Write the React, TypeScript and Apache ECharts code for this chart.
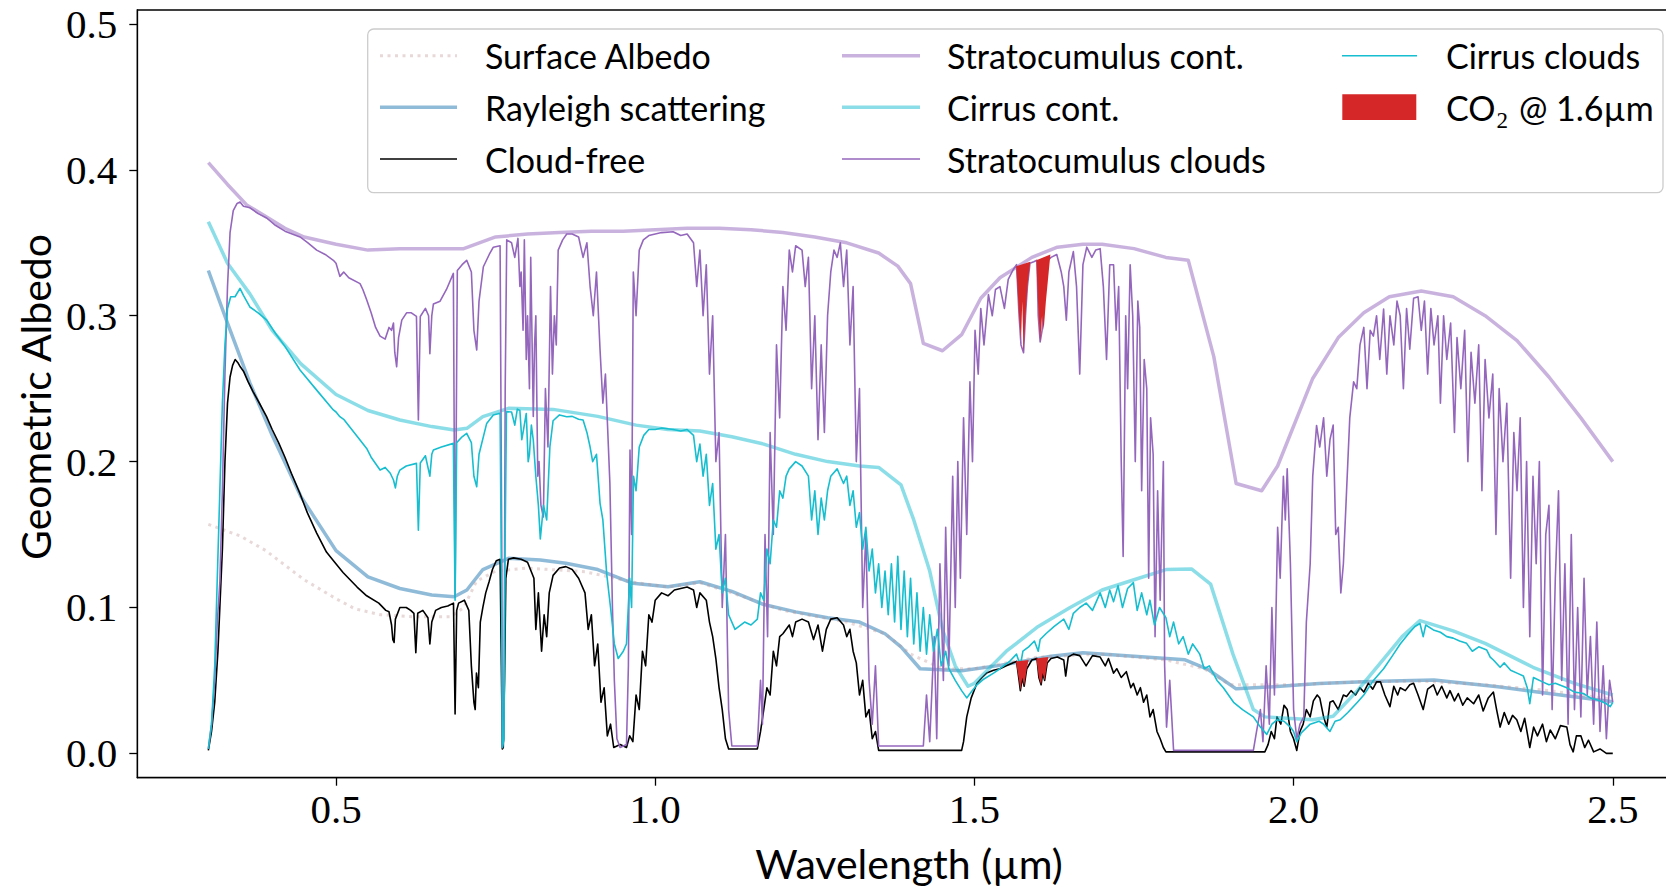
import { useEffect, useRef } from 'react';
import * as echarts from 'echarts';

// ---------- axis ranges & ticks ----------
const X_MIN = 0.1887;
const X_MAX = 2.61;
const Y_MIN = -0.0167;
const Y_MAX = 0.5096;
const xTicks = [0.5, 1.0, 1.5, 2.0, 2.5];
const yTicks = [0.0, 0.1, 0.2, 0.3, 0.4, 0.5];

// ---------- series names ----------
const names = {
  surface: 'Surface Albedo',
  rayleigh: 'Rayleigh scattering',
  clear: 'Cloud-free',
  stratoCont: 'Stratocumulus cont.',
  cirrusCont: 'Cirrus cont.',
  strato: 'Stratocumulus clouds',
  cirrus: 'Cirrus clouds',
};

// ---------- data (wavelength µm, geometric albedo) ----------
const surfaceAlbedo: number[][] = [
  [0.30, 0.157], [0.35, 0.149], [0.39, 0.139], [0.45, 0.119], [0.50, 0.106], [0.53, 0.099],
  [0.57, 0.095], [0.62, 0.0937], [0.68, 0.0937], [0.70, 0.10], [0.72, 0.118], [0.75, 0.125],
  [0.80, 0.127], [0.89, 0.1245], [0.97, 0.117], [1.02, 0.114], [1.07, 0.117], [1.12, 0.11],
  [1.20, 0.098], [1.30, 0.09], [1.36, 0.082], [1.40, 0.068], [1.45, 0.058], [1.50, 0.058],
  [1.60, 0.066], [1.70, 0.068], [1.80, 0.064], [1.86, 0.058], [1.90, 0.047], [2.00, 0.047],
  [2.10, 0.049], [2.20, 0.0495], [2.30, 0.047], [2.40, 0.043], [2.50, 0.037],
];

const rayleigh: number[][] = [
  [0.30, 0.331], [0.33, 0.295], [0.365, 0.254], [0.40, 0.218], [0.445, 0.176], [0.50, 0.139],
  [0.55, 0.121], [0.60, 0.113], [0.65, 0.1085], [0.685, 0.1074], [0.705, 0.112], [0.73, 0.126],
  [0.77, 0.1337], [0.82, 0.1325], [0.86, 0.1303], [0.91, 0.126], [0.965, 0.1166], [1.02, 0.1142],
  [1.07, 0.1176], [1.12, 0.111], [1.17, 0.102], [1.22, 0.097], [1.27, 0.093], [1.32, 0.090],
  [1.36, 0.082], [1.385, 0.073], [1.415, 0.058], [1.48, 0.0566], [1.54, 0.0603], [1.62, 0.0666],
  [1.67, 0.069], [1.75, 0.0666], [1.83, 0.0641], [1.865, 0.0578], [1.91, 0.0442], [1.96, 0.0454],
  [2.04, 0.0479], [2.12, 0.0492], [2.22, 0.0503], [2.32, 0.0457], [2.40, 0.041], [2.50, 0.0354],
];

const cloudFree: number[][] = [
  [0.300, 0.002], [0.305, 0.015], [0.310, 0.035], [0.315, 0.07], [0.318, 0.10], [0.322, 0.14],
  [0.326, 0.20], [0.330, 0.24], [0.334, 0.258], [0.338, 0.266], [0.342, 0.270], [0.346, 0.268],
  [0.350, 0.265], [0.355, 0.262], [0.362, 0.255], [0.370, 0.248], [0.380, 0.240], [0.391, 0.231],
  [0.400, 0.222], [0.410, 0.213], [0.420, 0.203], [0.430, 0.192], [0.4436, 0.178], [0.455, 0.165],
  [0.4697, 0.151], [0.485, 0.138], [0.496, 0.132], [0.511, 0.124], [0.522, 0.119], [0.533, 0.114],
  [0.548, 0.108], [0.567, 0.103], [0.578, 0.098], [0.583, 0.097], [0.587, 0.088], [0.589, 0.078],
  [0.591, 0.076], [0.593, 0.092], [0.600, 0.100], [0.610, 0.100], [0.617, 0.098], [0.622, 0.096],
  [0.625, 0.069], [0.628, 0.096], [0.636, 0.098], [0.644, 0.093], [0.647, 0.075], [0.650, 0.090],
  [0.656, 0.098], [0.665, 0.100], [0.675, 0.101], [0.684, 0.103], [0.6865, 0.027], [0.689, 0.098],
  [0.692, 0.103], [0.701, 0.105], [0.708, 0.098], [0.712, 0.060], [0.716, 0.035], [0.718, 0.030],
  [0.720, 0.055], [0.723, 0.045], [0.726, 0.090], [0.730, 0.100], [0.7345, 0.110], [0.740, 0.118],
  [0.745, 0.126], [0.751, 0.132], [0.757, 0.133], [0.759, 0.06], [0.7605, 0.003], [0.762, 0.004],
  [0.764, 0.05], [0.766, 0.12], [0.770, 0.133], [0.778, 0.134], [0.790, 0.133], [0.800, 0.131],
  [0.810, 0.120], [0.813, 0.085], [0.817, 0.110], [0.822, 0.070], [0.826, 0.095], [0.830, 0.080],
  [0.834, 0.110], [0.840, 0.122], [0.850, 0.127], [0.860, 0.128], [0.870, 0.126], [0.880, 0.120],
  [0.890, 0.110], [0.895, 0.085], [0.900, 0.095], [0.905, 0.060], [0.910, 0.075], [0.915, 0.035],
  [0.920, 0.045], [0.925, 0.012], [0.930, 0.020], [0.935, 0.004], [0.945, 0.006], [0.955, 0.004],
  [0.960, 0.012], [0.965, 0.008], [0.970, 0.040], [0.975, 0.030], [0.980, 0.070], [0.985, 0.060],
  [0.990, 0.095], [0.995, 0.090], [1.000, 0.105], [1.010, 0.110], [1.020, 0.108], [1.030, 0.112],
  [1.040, 0.113], [1.050, 0.114], [1.060, 0.112], [1.065, 0.100], [1.070, 0.110], [1.080, 0.105],
  [1.085, 0.090], [1.090, 0.080], [1.095, 0.065], [1.100, 0.045], [1.105, 0.030], [1.110, 0.010],
  [1.115, 0.003], [1.160, 0.003], [1.165, 0.015], [1.170, 0.030], [1.175, 0.045], [1.180, 0.040],
  [1.185, 0.070], [1.190, 0.060], [1.195, 0.080], [1.200, 0.082], [1.210, 0.088], [1.215, 0.080],
  [1.220, 0.090], [1.230, 0.092], [1.240, 0.090], [1.248, 0.078], [1.255, 0.088], [1.262, 0.070],
  [1.268, 0.085], [1.275, 0.092], [1.285, 0.093], [1.295, 0.088], [1.300, 0.080], [1.305, 0.085],
  [1.310, 0.070], [1.315, 0.062], [1.320, 0.040], [1.325, 0.050], [1.330, 0.025], [1.335, 0.030],
  [1.340, 0.010], [1.345, 0.015], [1.350, 0.002], [1.480, 0.002], [1.483, 0.008], [1.488, 0.025],
  [1.495, 0.038], [1.504, 0.048], [1.512, 0.052], [1.519, 0.055], [1.530, 0.057], [1.540, 0.058],
  [1.550, 0.060], [1.560, 0.062], [1.566, 0.063], [1.570, 0.050], [1.572, 0.043], [1.575, 0.052],
  [1.578, 0.046], [1.582, 0.058], [1.590, 0.064], [1.598, 0.065], [1.601, 0.052], [1.6045, 0.047],
  [1.607, 0.055], [1.610, 0.050], [1.614, 0.062], [1.620, 0.065], [1.630, 0.066], [1.640, 0.064],
  [1.643, 0.053], [1.647, 0.066], [1.655, 0.068], [1.665, 0.067], [1.675, 0.060], [1.685, 0.067],
  [1.697, 0.066], [1.705, 0.060], [1.710, 0.065], [1.718, 0.055], [1.723, 0.058], [1.730, 0.052],
  [1.738, 0.056], [1.745, 0.045], [1.749, 0.048], [1.755, 0.040], [1.760, 0.045], [1.765, 0.035],
  [1.770, 0.040], [1.775, 0.025], [1.780, 0.030], [1.786, 0.015], [1.791, 0.010], [1.796, 0.004],
  [1.800, 0.001], [1.955, 0.001], [1.960, 0.006], [1.965, 0.015], [1.970, 0.010], [1.974, 0.025],
  [1.980, 0.020], [1.985, 0.033], [1.990, 0.030], [1.995, 0.015], [2.000, 0.010], [2.005, 0.002],
  [2.010, 0.015], [2.015, 0.020], [2.020, 0.030], [2.026, 0.025], [2.031, 0.036], [2.037, 0.040],
  [2.041, 0.038], [2.047, 0.025], [2.052, 0.018], [2.057, 0.035], [2.062, 0.036], [2.070, 0.030],
  [2.078, 0.040], [2.083, 0.039], [2.090, 0.043], [2.097, 0.040], [2.104, 0.045], [2.110, 0.042],
  [2.117, 0.048], [2.124, 0.044], [2.130, 0.049], [2.136, 0.049], [2.143, 0.040], [2.151, 0.032],
  [2.157, 0.046], [2.163, 0.040], [2.167, 0.045], [2.175, 0.043], [2.182, 0.047], [2.188, 0.048],
  [2.195, 0.040], [2.203, 0.030], [2.210, 0.044], [2.219, 0.047], [2.225, 0.040], [2.232, 0.046],
  [2.240, 0.038], [2.245, 0.043], [2.252, 0.036], [2.258, 0.041], [2.265, 0.033], [2.272, 0.038],
  [2.282, 0.034], [2.290, 0.040], [2.297, 0.029], [2.305, 0.038], [2.313, 0.042], [2.318, 0.030],
  [2.3235, 0.018], [2.330, 0.028], [2.337, 0.020], [2.343, 0.026], [2.3496, 0.023], [2.356, 0.015],
  [2.362, 0.024], [2.370, 0.004], [2.376, 0.018], [2.382, 0.012], [2.390, 0.020], [2.396, 0.008],
  [2.402, 0.016], [2.410, 0.010], [2.418, 0.019], [2.428, 0.018], [2.433, 0.006], [2.438, 0.001],
  [2.443, 0.012], [2.450, 0.012], [2.456, 0.004], [2.462, 0.009], [2.470, 0.001], [2.480, 0.003],
  [2.490, 0.0], [2.500, 0.0],
];

const stratoCont: number[][] = [
  [0.30, 0.405], [0.33, 0.39], [0.36, 0.376], [0.39, 0.368], [0.42, 0.36], [0.45, 0.354],
  [0.50, 0.349], [0.55, 0.345], [0.60, 0.346], [0.65, 0.346], [0.70, 0.346], [0.75, 0.354],
  [0.80, 0.356], [0.85, 0.357], [0.90, 0.358], [0.95, 0.358], [1.00, 0.359], [1.05, 0.360],
  [1.10, 0.360], [1.15, 0.359], [1.20, 0.357], [1.25, 0.354], [1.30, 0.350], [1.35, 0.343],
  [1.38, 0.334], [1.40, 0.322], [1.42, 0.281], [1.45, 0.276], [1.48, 0.287], [1.51, 0.312],
  [1.54, 0.326], [1.59, 0.340], [1.63, 0.347], [1.67, 0.349], [1.70, 0.349], [1.75, 0.346],
  [1.80, 0.340], [1.835, 0.338], [1.875, 0.272], [1.91, 0.185], [1.95, 0.180], [1.975, 0.197],
  [2.03, 0.257], [2.07, 0.285], [2.11, 0.302], [2.15, 0.313], [2.20, 0.317], [2.25, 0.313],
  [2.30, 0.300], [2.35, 0.283], [2.40, 0.258], [2.45, 0.230], [2.50, 0.200],
];

const cirrusCont: number[][] = [
  [0.30, 0.3645], [0.33, 0.336], [0.365, 0.315], [0.40, 0.29], [0.445, 0.267], [0.50, 0.246],
  [0.55, 0.235], [0.60, 0.2285], [0.65, 0.224], [0.685, 0.2217], [0.705, 0.2228], [0.73, 0.2308],
  [0.77, 0.2365], [0.84, 0.2358], [0.91, 0.231], [0.97, 0.225], [1.02, 0.222], [1.07, 0.221],
  [1.12, 0.217], [1.17, 0.212], [1.22, 0.205], [1.27, 0.200], [1.32, 0.197], [1.35, 0.196],
  [1.385, 0.184], [1.405, 0.16], [1.43, 0.125], [1.45, 0.085], [1.47, 0.06], [1.49, 0.046],
  [1.50, 0.048], [1.55, 0.07], [1.60, 0.087], [1.65, 0.10], [1.70, 0.112], [1.75, 0.119],
  [1.80, 0.126], [1.84, 0.1264], [1.87, 0.116], [1.905, 0.068], [1.937, 0.030], [1.955, 0.025],
  [2.03, 0.023], [2.062, 0.0254], [2.10, 0.043], [2.14, 0.064], [2.17, 0.080], [2.198, 0.091],
  [2.25, 0.084], [2.30, 0.0754], [2.375, 0.059], [2.44, 0.048], [2.50, 0.040],
];

const stratoClouds: number[][] = [
  [0.300, 0.003], [0.305, 0.02], [0.310, 0.05], [0.314, 0.09], [0.318, 0.117], [0.322, 0.18],
  [0.326, 0.26], [0.330, 0.32], [0.334, 0.357], [0.339, 0.372], [0.345, 0.377], [0.3496, 0.378],
  [0.355, 0.375], [0.3653, 0.374], [0.378, 0.370], [0.3914, 0.367], [0.405, 0.362], [0.420, 0.358],
  [0.4436, 0.354], [0.456, 0.350], [0.4697, 0.345], [0.483, 0.342], [0.4958, 0.338], [0.500, 0.336],
  [0.506, 0.327], [0.512, 0.330], [0.520, 0.326], [0.5376, 0.322], [0.542, 0.318], [0.548, 0.311],
  [0.555, 0.302], [0.562, 0.292], [0.569, 0.286], [0.577, 0.284], [0.583, 0.292], [0.587, 0.290],
  [0.590, 0.295], [0.592, 0.275], [0.595, 0.265], [0.598, 0.285], [0.603, 0.297], [0.6105, 0.302],
  [0.618, 0.302], [0.626, 0.2995], [0.629, 0.2285], [0.632, 0.2995], [0.640, 0.305], [0.645, 0.300],
  [0.647, 0.274], [0.650, 0.300], [0.6525, 0.308], [0.663, 0.310], [0.673, 0.318], [0.6838, 0.329],
  [0.6865, 0.107], [0.690, 0.331], [0.6975, 0.335], [0.7047, 0.338], [0.712, 0.330], [0.716, 0.290],
  [0.7204, 0.2765], [0.724, 0.310], [0.7308, 0.3336], [0.740, 0.342], [0.7464, 0.347], [0.757, 0.348],
  [0.7595, 0.15], [0.7605, 0.004], [0.763, 0.01], [0.765, 0.25], [0.7674, 0.352], [0.775, 0.350],
  [0.780, 0.340], [0.785, 0.353], [0.788, 0.320], [0.790, 0.330], [0.793, 0.290], [0.795, 0.352],
  [0.798, 0.270], [0.800, 0.300], [0.803, 0.250], [0.805, 0.340], [0.809, 0.231], [0.811, 0.280],
  [0.813, 0.300], [0.816, 0.190], [0.818, 0.200], [0.821, 0.170], [0.8248, 0.162], [0.828, 0.250],
  [0.832, 0.210], [0.836, 0.320], [0.839, 0.260], [0.842, 0.300], [0.845, 0.280], [0.848, 0.345],
  [0.855, 0.352], [0.8614, 0.356], [0.870, 0.356], [0.880, 0.354],
  [0.887, 0.340], [0.893, 0.350], [0.898, 0.320], [0.903, 0.300], [0.908, 0.330], [0.9136, 0.2765],
  [0.918, 0.240], [0.922, 0.260], [0.929, 0.185], [0.933, 0.100], [0.936, 0.050], [0.940, 0.010],
  [0.945, 0.004], [0.955, 0.006], [0.958, 0.060], [0.9605, 0.208], [0.963, 0.150], [0.9657, 0.330],
  [0.970, 0.300], [0.975, 0.345], [0.9814, 0.352], [0.990, 0.355], [1.000, 0.356], [1.010, 0.357],
  [1.028, 0.3576], [1.040, 0.355], [1.050, 0.356], [1.060, 0.350], [1.065, 0.320], [1.070, 0.345],
  [1.075, 0.300], [1.080, 0.335], [1.085, 0.260], [1.090, 0.300], [1.095, 0.200], [1.100, 0.220],
  [1.105, 0.100], [1.110, 0.150], [1.115, 0.030], [1.120, 0.005], [1.160, 0.005], [1.165, 0.050],
  [1.168, 0.020], [1.172, 0.150], [1.176, 0.080], [1.180, 0.220], [1.185, 0.150], [1.190, 0.280],
  [1.195, 0.230], [1.200, 0.320], [1.205, 0.290], [1.210, 0.345], [1.215, 0.330], [1.220, 0.348],
  [1.230, 0.345], [1.235, 0.320], [1.240, 0.340], [1.245, 0.250], [1.250, 0.300], [1.255, 0.215],
  [1.260, 0.280], [1.265, 0.220], [1.270, 0.300], [1.275, 0.330], [1.280, 0.345], [1.285, 0.340],
  [1.290, 0.350], [1.295, 0.320], [1.300, 0.345], [1.305, 0.280], [1.310, 0.320], [1.315, 0.200],
  [1.320, 0.250], [1.325, 0.100], [1.330, 0.150], [1.335, 0.050], [1.340, 0.020], [1.345, 0.060],
  [1.350, 0.005], [1.420, 0.005], [1.425, 0.040], [1.430, 0.008], [1.437, 0.080], [1.441, 0.010],
  [1.446, 0.130], [1.4514, 0.050], [1.455, 0.155], [1.460, 0.060], [1.466, 0.190], [1.470, 0.100],
  [1.474, 0.200], [1.478, 0.120], [1.483, 0.230], [1.488, 0.150], [1.493, 0.2547], [1.497, 0.200],
  [1.501, 0.290], [1.506, 0.260], [1.510, 0.305], [1.515, 0.280], [1.522, 0.3145], [1.528, 0.300],
  [1.533, 0.318], [1.540, 0.320], [1.547, 0.305], [1.553, 0.325], [1.560, 0.331], [1.566, 0.335],
  [1.570, 0.300], [1.573, 0.280], [1.577, 0.2747], [1.580, 0.300], [1.583, 0.320], [1.587, 0.336],
  [1.593, 0.337], [1.598, 0.338], [1.600, 0.300], [1.603, 0.282], [1.606, 0.290], [1.609, 0.310],
  [1.613, 0.337], [1.620, 0.340], [1.629, 0.342], [1.636, 0.330], [1.640, 0.320], [1.644, 0.297],
  [1.648, 0.330], [1.655, 0.344], [1.660, 0.320], [1.665, 0.260], [1.670, 0.335], [1.676, 0.347],
  [1.684, 0.340], [1.690, 0.345], [1.697, 0.346], [1.702, 0.320], [1.707, 0.270], [1.712, 0.335],
  [1.718, 0.335], [1.722, 0.290], [1.726, 0.320], [1.730, 0.200], [1.733, 0.135], [1.737, 0.300],
  [1.740, 0.250], [1.744, 0.335], [1.748, 0.300], [1.752, 0.200], [1.756, 0.310], [1.759, 0.292],
  [1.762, 0.180], [1.766, 0.270], [1.770, 0.250], [1.773, 0.120], [1.776, 0.230], [1.780, 0.205],
  [1.783, 0.080], [1.787, 0.180], [1.791, 0.105], [1.796, 0.200], [1.798, 0.060], [1.801, 0.018],
  [1.806, 0.050], [1.812, 0.002], [1.937, 0.002], [1.942, 0.015], [1.948, 0.030], [1.952, 0.008],
  [1.957, 0.060], [1.962, 0.020], [1.966, 0.100], [1.970, 0.040], [1.975, 0.155], [1.979, 0.120],
  [1.984, 0.190], [1.987, 0.160], [1.990, 0.195], [1.995, 0.130], [2.000, 0.030], [2.005, 0.010],
  [2.010, 0.020], [2.016, 0.025], [2.020, 0.090], [2.026, 0.130], [2.030, 0.190], [2.036, 0.2248],
  [2.041, 0.210], [2.047, 0.230], [2.052, 0.190], [2.057, 0.215], [2.062, 0.225], [2.066, 0.150],
  [2.070, 0.155], [2.074, 0.110], [2.078, 0.130], [2.083, 0.180], [2.088, 0.230], [2.094, 0.2547],
  [2.099, 0.250], [2.104, 0.280], [2.110, 0.292], [2.115, 0.250], [2.120, 0.290], [2.125, 0.286],
  [2.130, 0.300], [2.135, 0.270], [2.141, 0.3046], [2.146, 0.260], [2.151, 0.300], [2.157, 0.280],
  [2.162, 0.310], [2.167, 0.300], [2.172, 0.250], [2.177, 0.305], [2.182, 0.277], [2.188, 0.312],
  [2.195, 0.313], [2.200, 0.290], [2.205, 0.310], [2.210, 0.260], [2.215, 0.305], [2.220, 0.280],
  [2.226, 0.300], [2.230, 0.240], [2.235, 0.300], [2.240, 0.270], [2.246, 0.295], [2.252, 0.220],
  [2.256, 0.285], [2.262, 0.250], [2.268, 0.290], [2.273, 0.200], [2.278, 0.275], [2.284, 0.240],
  [2.290, 0.280], [2.295, 0.180], [2.300, 0.270], [2.306, 0.230], [2.312, 0.260], [2.317, 0.150],
  [2.322, 0.250], [2.328, 0.200], [2.334, 0.240], [2.340, 0.120], [2.345, 0.220], [2.350, 0.180],
  [2.355, 0.230], [2.360, 0.100], [2.365, 0.200], [2.370, 0.080], [2.375, 0.190], [2.380, 0.130],
  [2.385, 0.200], [2.390, 0.040], [2.395, 0.150], [2.400, 0.170], [2.405, 0.030], [2.410, 0.120],
  [2.415, 0.180], [2.420, 0.050], [2.425, 0.130], [2.430, 0.020], [2.435, 0.150], [2.440, 0.030],
  [2.445, 0.100], [2.450, 0.025], [2.455, 0.120], [2.460, 0.040], [2.465, 0.080], [2.470, 0.020],
  [2.475, 0.090], [2.480, 0.015], [2.485, 0.060], [2.490, 0.010], [2.495, 0.050], [2.500, 0.035],
];

const cirrusClouds: number[][] = [
  [0.300, 0.003], [0.305, 0.02], [0.310, 0.06], [0.314, 0.12], [0.318, 0.18], [0.322, 0.24],
  [0.326, 0.28], [0.330, 0.305], [0.335, 0.313], [0.3418, 0.313], [0.3496, 0.3188], [0.355, 0.314],
  [0.365, 0.306], [0.378, 0.302], [0.3914, 0.297], [0.405, 0.288], [0.420, 0.279], [0.4436, 0.2628],
  [0.4697, 0.249], [0.4958, 0.2354], [0.500, 0.234], [0.506, 0.2308], [0.512, 0.229], [0.5376, 0.2148],
  [0.548, 0.209], [0.555, 0.203], [0.569, 0.1942], [0.577, 0.196], [0.585, 0.192], [0.590, 0.1874],
  [0.593, 0.182], [0.596, 0.190], [0.600, 0.1942], [0.610, 0.197], [0.626, 0.1988], [0.629, 0.153],
  [0.632, 0.199], [0.640, 0.204], [0.647, 0.190], [0.650, 0.205], [0.6525, 0.208], [0.665, 0.210],
  [0.6838, 0.2125], [0.6865, 0.105], [0.689, 0.213], [0.6975, 0.217], [0.7047, 0.2194], [0.712, 0.213],
  [0.716, 0.190], [0.7204, 0.1828], [0.724, 0.205], [0.736, 0.2262], [0.7464, 0.232], [0.757, 0.2331],
  [0.7595, 0.10], [0.7605, 0.004], [0.763, 0.01], [0.765, 0.15], [0.767, 0.2342], [0.775, 0.234],
  [0.780, 0.225], [0.784, 0.236], [0.788, 0.235], [0.791, 0.215], [0.793, 0.22], [0.798, 0.233],
  [0.801, 0.200], [0.803, 0.205], [0.806, 0.225], [0.809, 0.2148], [0.813, 0.19],
  [0.817, 0.17], [0.820, 0.147], [0.825, 0.17], [0.830, 0.16], [0.835, 0.21], [0.840, 0.228],
  [0.850, 0.232], [0.8614, 0.2308], [0.870, 0.231], [0.880, 0.229], [0.887, 0.2285], [0.893, 0.22],
  [0.898, 0.21], [0.902, 0.20], [0.908, 0.205], [0.9136, 0.1714], [0.918, 0.16], [0.924, 0.123],
  [0.930, 0.10], [0.936, 0.075], [0.942, 0.065], [0.950, 0.07], [0.955, 0.075], [0.960, 0.12],
  [0.963, 0.10], [0.966, 0.19], [0.970, 0.18], [0.975, 0.21], [0.982, 0.218], [0.990, 0.222],
  [1.000, 0.222], [1.010, 0.223], [1.028, 0.222], [1.040, 0.221], [1.050, 0.222], [1.060, 0.218],
  [1.065, 0.200], [1.070, 0.212], [1.075, 0.190], [1.080, 0.205], [1.085, 0.170], [1.090, 0.185],
  [1.095, 0.140], [1.100, 0.150], [1.105, 0.110], [1.110, 0.120], [1.115, 0.095], [1.125, 0.085],
  [1.140, 0.09], [1.150, 0.088], [1.160, 0.092], [1.165, 0.11], [1.170, 0.105], [1.175, 0.14],
  [1.180, 0.13], [1.185, 0.16], [1.190, 0.155], [1.195, 0.18], [1.200, 0.175], [1.205, 0.19],
  [1.210, 0.195], [1.220, 0.20], [1.230, 0.197], [1.240, 0.19], [1.245, 0.16], [1.250, 0.18],
  [1.255, 0.15], [1.260, 0.175], [1.265, 0.16], [1.270, 0.18], [1.275, 0.19], [1.285, 0.195],
  [1.295, 0.185], [1.300, 0.19], [1.305, 0.17], [1.310, 0.18], [1.315, 0.155], [1.320, 0.165],
  [1.325, 0.14], [1.330, 0.155], [1.335, 0.125], [1.340, 0.14], [1.345, 0.11], [1.350, 0.13],
  [1.355, 0.10], [1.360, 0.125], [1.365, 0.095], [1.370, 0.13], [1.375, 0.09], [1.380, 0.135],
  [1.385, 0.085], [1.390, 0.125], [1.395, 0.08], [1.400, 0.12], [1.405, 0.075], [1.410, 0.11],
  [1.415, 0.07], [1.420, 0.10], [1.425, 0.068], [1.430, 0.095], [1.436, 0.07], [1.442, 0.085],
  [1.448, 0.06], [1.455, 0.07], [1.460, 0.058], [1.470, 0.05], [1.480, 0.043], [1.488, 0.038],
  [1.495, 0.042], [1.504, 0.047], [1.515, 0.051], [1.530, 0.055], [1.540, 0.058], [1.555, 0.063],
  [1.566, 0.068], [1.572, 0.060], [1.576, 0.070], [1.585, 0.073], [1.594, 0.077], [1.600, 0.070],
  [1.603, 0.078], [1.612, 0.082], [1.625, 0.087], [1.640, 0.092], [1.648, 0.085], [1.655, 0.096],
  [1.665, 0.100], [1.675, 0.103], [1.685, 0.098], [1.697, 0.110], [1.705, 0.100], [1.712, 0.112],
  [1.718, 0.104], [1.725, 0.115], [1.732, 0.100], [1.740, 0.113], [1.749, 0.117], [1.755, 0.098],
  [1.762, 0.110], [1.770, 0.095], [1.775, 0.105], [1.782, 0.088], [1.790, 0.100], [1.800, 0.093],
  [1.806, 0.080], [1.812, 0.090], [1.820, 0.075], [1.827, 0.080], [1.835, 0.068], [1.842, 0.075],
  [1.853, 0.068], [1.860, 0.058], [1.868, 0.060], [1.880, 0.050], [1.890, 0.045], [1.906, 0.035],
  [1.920, 0.030], [1.937, 0.025], [1.948, 0.018], [1.958, 0.013], [1.966, 0.020], [1.974, 0.023],
  [1.985, 0.022], [1.995, 0.018], [2.000, 0.015], [2.005, 0.008], [2.012, 0.014], [2.026, 0.020],
  [2.040, 0.022], [2.047, 0.020], [2.057, 0.015], [2.065, 0.022], [2.073, 0.023], [2.085, 0.028],
  [2.100, 0.035], [2.110, 0.040], [2.125, 0.050], [2.141, 0.058], [2.155, 0.067], [2.167, 0.075],
  [2.180, 0.082], [2.190, 0.087], [2.198, 0.089], [2.203, 0.080], [2.207, 0.088], [2.219, 0.0846],
  [2.230, 0.083], [2.240, 0.080], [2.250, 0.079], [2.260, 0.077], [2.271, 0.0754], [2.280, 0.070],
  [2.290, 0.073], [2.3026, 0.0708], [2.308, 0.066], [2.313, 0.064], [2.3235, 0.059], [2.330, 0.062],
  [2.340, 0.057], [2.350, 0.055], [2.360, 0.053], [2.366, 0.045], [2.370, 0.034], [2.3757, 0.052],
  [2.390, 0.049], [2.400, 0.047], [2.410, 0.048], [2.428, 0.045], [2.440, 0.042], [2.454, 0.041],
  [2.465, 0.038], [2.480, 0.036], [2.490, 0.034], [2.496, 0.032], [2.500, 0.035],
];

// CO2 absorption at 1.6 µm: polygons between the CO2-free and the CO2 spectrum
const co2Bands: number[][][] = [
  [[1.5655, 0.334], [1.570, 0.300], [1.573, 0.283], [1.575, 0.310], [1.577, 0.2747], [1.580, 0.300], [1.5835, 0.322], [1.5875, 0.337]],
  [[1.597, 0.338], [1.600, 0.305], [1.603, 0.282], [1.606, 0.300], [1.6085, 0.290], [1.612, 0.310], [1.619, 0.342]],
  [[1.565, 0.063], [1.570, 0.050], [1.572, 0.043], [1.575, 0.052], [1.578, 0.046], [1.582, 0.058], [1.585, 0.064]],
  [[1.597, 0.065], [1.601, 0.052], [1.6045, 0.047], [1.607, 0.055], [1.610, 0.050], [1.614, 0.062], [1.616, 0.066]],
];

// ---------- styles ----------
const C_PURPLE = '#9467bd';
const C_CYAN = '#17becf';
const C_BLUE = '#1f77b4';
const C_RED = '#d62728';
const C_SURF = '#bc8f8f';
const SANS = 'Lato, "Noto Sans", sans-serif';
const SERIF = '"Liberation Serif", "DejaVu Serif", serif';
const LEG_FS = 34;

const lineSeries = (name: string, data: number[][], color: string, width: number, opacity: number, z: number, type: any = 'solid') => ({
  type: 'line',
  name,
  data,
  showSymbol: false,
  symbol: 'none',
  smooth: false,
  z,
  silent: true,
  lineStyle: { color, width, opacity, type, cap: 'butt', join: 'round' },
  emphasis: { disabled: true },
});

function textWidth(text: string, fontSize: number, fontFamily: string) {
  try {
    const t = new (echarts as any).graphic.Text({ style: { text, fontSize, fontFamily } });
    return t.getBoundingRect().width;
  } catch (e) {
    return text.length * fontSize * 0.55;
  }
}

function legendItems() {
  const rows = [55.7, 107.3, 159];
  const cols = [
    { x1: 380, x2: 457, tx: 485 },
    { x1: 842, x2: 920, tx: 947 },
    { x1: 1342, x2: 1417, tx: 1446 },
  ];
  const els: any[] = [];
  els.push({
    type: 'rect', z: 100,
    shape: { x: 367.7, y: 29, width: 1295.3, height: 163.7, r: 6 },
    style: { fill: 'rgba(255,255,255,0.8)', stroke: '#cccccc', lineWidth: 1.3 },
  });
  const entries = [
    { c: 0, r: 0, label: names.surface, stroke: C_SURF, w: 3, op: 0.35, dash: [3, 4.5] },
    { c: 0, r: 1, label: names.rayleigh, stroke: C_BLUE, w: 3.5, op: 0.5 },
    { c: 0, r: 2, label: names.clear, stroke: '#000', w: 1.6, op: 1 },
    { c: 1, r: 0, label: names.stratoCont, stroke: C_PURPLE, w: 3.5, op: 0.5 },
    { c: 1, r: 1, label: names.cirrusCont, stroke: C_CYAN, w: 3.5, op: 0.5 },
    { c: 1, r: 2, label: names.strato, stroke: C_PURPLE, w: 1.6, op: 1 },
    { c: 2, r: 0, label: names.cirrus, stroke: C_CYAN, w: 1.6, op: 1 },
  ];
  entries.forEach((e) => {
    const col = cols[e.c];
    const y = rows[e.r];
    els.push({
      type: 'line', z: 101,
      shape: { x1: col.x1, y1: y, x2: col.x2, y2: y },
      style: { stroke: e.stroke, lineWidth: e.w, opacity: e.op, lineDash: e.dash || null },
    });
    els.push({
      type: 'text', z: 101, x: col.tx, y,
      style: { text: e.label, fontSize: LEG_FS, fontFamily: SANS, fill: '#000', align: 'left', verticalAlign: 'middle' },
    });
  });
  // CO2 patch + label with subscript
  els.push({
    type: 'rect', z: 101,
    shape: { x: 1342.3, y: 94.3, width: 74, height: 25.7 },
    style: { fill: C_RED },
  });
  const x0 = 1446;
  const wCO = textWidth('CO', LEG_FS, SANS);
  const w2 = textWidth('2', 23, SERIF);
  els.push({
    type: 'text', z: 101, x: x0, y: rows[1],
    style: { text: 'CO', fontSize: LEG_FS, fontFamily: SANS, fill: '#000', align: 'left', verticalAlign: 'middle' },
  });
  els.push({
    type: 'text', z: 101, x: x0 + wCO + 1, y: 120,
    style: { text: '2', fontSize: 23, fontFamily: SERIF, fill: '#000', align: 'left', verticalAlign: 'middle' },
  });
  els.push({
    type: 'text', z: 101, x: x0 + wCO + 1 + w2 + 11, y: rows[1],
    style: { text: '@ 1.6µm', fontSize: LEG_FS, fontFamily: SANS, fill: '#000', align: 'left', verticalAlign: 'middle' },
  });
  return els;
}

export default function App() {
  const ref = useRef<HTMLDivElement>(null);
  useEffect(() => {
    if (!ref.current) return;
    document.documentElement.style.overflow = 'hidden';
    document.body.style.overflow = 'hidden';
    const chart = echarts.init(ref.current, null, { renderer: 'svg' });
    const fmt = (v: number) => v.toFixed(1);
    const option: any = {
      animation: false,
      backgroundColor: '#ffffff',
      grid: {
        left: 137.3, top: 10, width: 1545.7, height: 767.7,
        show: true, borderColor: '#000', borderWidth: 1.3, backgroundColor: 'transparent',
      },
      xAxis: {
        type: 'value', min: X_MIN, max: X_MAX,
        axisLine: { show: true, onZero: false, lineStyle: { color: '#000', width: 1.3 } },
        axisTick: { show: true, length: 8, customValues: xTicks, lineStyle: { color: '#000', width: 1.3 } },
        axisLabel: { customValues: xTicks, formatter: fmt, fontFamily: SERIF, fontSize: 41, color: '#000', margin: 11 },
        splitLine: { show: false },
      },
      yAxis: {
        type: 'value', min: Y_MIN, max: Y_MAX,
        axisLine: { show: true, onZero: false, lineStyle: { color: '#000', width: 1.3 } },
        axisTick: { show: true, length: 8, customValues: yTicks, lineStyle: { color: '#000', width: 1.3 } },
        axisLabel: { customValues: yTicks, formatter: fmt, fontFamily: SERIF, fontSize: 41, color: '#000', margin: 20 },
        splitLine: { show: false },
      },
      series: [
        lineSeries(names.rayleigh, rayleigh, C_BLUE, 3.5, 0.5, 2),
        lineSeries(names.surface, surfaceAlbedo, C_SURF, 3, 0.35, 3, [3, 4.5]),
        lineSeries(names.clear, cloudFree, '#000', 1.6, 1, 4),
        lineSeries(names.stratoCont, stratoCont, C_PURPLE, 3.5, 0.5, 5),
        lineSeries(names.cirrusCont, cirrusCont, C_CYAN, 3.5, 0.5, 6),
        lineSeries(names.strato, stratoClouds, C_PURPLE, 1.6, 1, 7),
        lineSeries(names.cirrus, cirrusClouds, C_CYAN, 1.6, 1, 8),
        {
          type: 'custom',
          name: 'CO2 @ 1.6µm',
          z: 9,
          silent: true,
          data: co2Bands.map((b) => b[0]),
          renderItem: (params: any, api: any) => {
            const band = co2Bands[params.dataIndex];
            const pts = band.map((p) => api.coord(p));
            return { type: 'polygon', shape: { points: pts }, style: { fill: C_RED } };
          },
        },
      ],
      graphic: [
        ...legendItems(),
        {
          type: 'text', z: 101, x: 909, y: 863,
          style: { text: 'Wavelength (µm)', fontSize: 41, fontFamily: SANS, fill: '#000', align: 'center', verticalAlign: 'middle' },
        },
        {
          type: 'text', z: 101, x: 35, y: 397, rotation: Math.PI / 2,
          style: { text: 'Geometric Albedo', fontSize: 41, fontFamily: SANS, fill: '#000', align: 'center', verticalAlign: 'middle' },
        },
      ],
    };
    chart.setOption(option);
    return () => chart.dispose();
  }, []);
  return (
    <div
      ref={ref}
      style={{ position: 'fixed', left: 0, top: 0, width: 1720, height: 890, background: '#fff' }}
    />
  );
}
